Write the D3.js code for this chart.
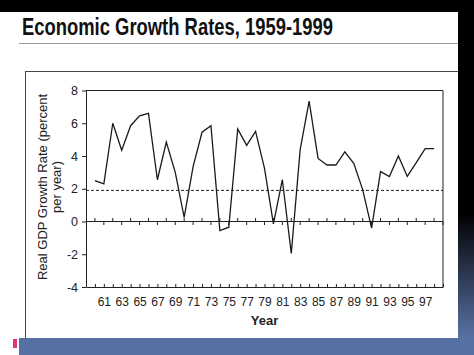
<!DOCTYPE html>
<html><head><meta charset="utf-8">
<script src="https://cdn.jsdelivr.net/npm/d3@7/dist/d3.min.js"></script>
<style>html,body{margin:0;padding:0;overflow:hidden;background:#000}</style>
</head><body>
<svg id="c" width="474" height="355"></svg>
<script>
const years = d3.range(1960, 1999);
const growth = [2.5, 2.3, 6.0, 4.35, 5.85, 6.45, 6.6, 2.55, 4.85, 3.0,
                0.25, 3.35, 5.45, 5.85, -0.55, -0.35, 5.65, 4.65, 5.5, 3.25,
                -0.15, 2.55, -1.95, 4.4, 7.35, 3.85, 3.45, 3.45, 4.25, 3.55,
                1.95, -0.4, 3.05, 2.75, 4.0, 2.75, 3.6, 4.45, 4.45];
const refLine = 1.9;
const yTicks = [-4, -2, 0, 2, 4, 6, 8];
const xLabelYears = d3.range(1961, 1998, 2);
const title = "Economic Growth Rates, 1959-1999";
const yTitle = ["Real GDP Growth Rate (percent", "per year)"];
const xTitle = "Year";

const svg = d3.select("#c");
const defs = svg.append("defs");
const g = defs.append("linearGradient").attr("id","bg").attr("x1",0).attr("y1",0).attr("x2",0).attr("y2",1);
g.append("stop").attr("offset","0").attr("stop-color","#000");
g.append("stop").attr("offset","0.6").attr("stop-color","#000");
g.append("stop").attr("offset","0.95").attr("stop-color","#5871a3");
g.append("stop").attr("offset","1").attr("stop-color","#5a74a6");
svg.append("rect").attr("width",474).attr("height",355).attr("fill","url(#bg)");
svg.append("rect").attr("x",19).attr("y",338).attr("width",455).attr("height",17).attr("fill","#5670a3");
svg.append("rect").attr("x",0).attr("y",12).attr("width",458).attr("height",326).attr("fill","#fff");
svg.append("rect").attr("x",0).attr("y",338).attr("width",19).attr("height",17).attr("fill","#fff");
svg.append("rect").attr("x",13).attr("y",339).attr("width",4).attr("height",9).attr("fill","#e0357f");

// title
svg.append("text").attr("x",22).attr("y",35)
  .attr("font-family","'Liberation Sans Narrow','Arial Narrow','Liberation Sans',Arial,sans-serif")
  .attr("font-weight","bold").attr("font-size",23).attr("fill","#111")
  .attr("textLength",311).attr("lengthAdjust","spacingAndGlyphs").text(title);
svg.append("line").attr("x1",19).attr("x2",458).attr("y1",43.5).attr("y2",43.5).attr("stroke","#9a9a9a").attr("stroke-width",1);
svg.append("line").attr("x1",25).attr("x2",458).attr("y1",71.5).attr("y2",71.5).attr("stroke","#444").attr("stroke-width",1);
svg.append("line").attr("x1",25.5).attr("x2",25.5).attr("y1",71).attr("y2",338).attr("stroke","#444").attr("stroke-width",1);

const x = d3.scaleLinear().domain([1959, 1999]).range([86, 443]);
const y = d3.scaleLinear().domain([-4, 8]).range([287, 90.5]);
const ink = "#222";
const font = "'Liberation Sans',Arial,sans-serif";

// y axis
const ya = svg.append("g").attr("transform",`translate(${x(1959)},0)`)
  .call(d3.axisLeft(y).tickValues(yTicks).tickSizeInner(4).tickSizeOuter(0).tickPadding(4).tickFormat(d => String(d)));
ya.selectAll("text").attr("font-family",font).attr("font-size",12.5).attr("fill",ink);
ya.selectAll("line,path").attr("stroke",ink);

// bottom x axis
const xa = svg.append("g").attr("transform",`translate(0,${y(-4)})`)
  .call(d3.axisBottom(x).tickValues(years.concat([1999])).tickSizeInner(-3).tickSizeOuter(0).tickPadding(10)
    .tickFormat(d => xLabelYears.includes(d) ? String(d).slice(2) : ""));
xa.selectAll("text").attr("font-family",font).attr("font-size",12).attr("fill",ink);
xa.selectAll("line,path").attr("stroke",ink);

// frame top & right
svg.append("line").attr("x1",x(1959)).attr("x2",x(1999)).attr("y1",y(8)).attr("y2",y(8)).attr("stroke",ink);
svg.append("line").attr("x1",x(1999)).attr("x2",x(1999)).attr("y1",y(8)).attr("y2",y(-4)).attr("stroke",ink);

// zero line with alternating ticks
svg.append("line").attr("x1",x(1959)).attr("x2",x(1999)).attr("y1",y(0)).attr("y2",y(0)).attr("stroke",ink).attr("stroke-width",1.2);
svg.append("g").selectAll("line").data(years.concat([1999])).join("line")
  .attr("x1",d=>x(d)).attr("x2",d=>x(d))
  .attr("y1",y(0)).attr("y2",d=> d%2===0 ? y(0)-3.5 : y(0)+3.5)
  .attr("stroke",ink);

// reference dashed line
svg.append("line").attr("x1",x(1959)).attr("x2",x(1999)).attr("y1",y(refLine)).attr("y2",y(refLine))
  .attr("stroke",ink).attr("stroke-dasharray","3,2").attr("stroke-width",1);

// series
svg.append("path").datum(growth)
  .attr("d", d3.line().x((d,i)=>x(years[i])).y(d=>y(d)))
  .attr("fill","none").attr("stroke","#1a1a1a").attr("stroke-width",1.3).attr("stroke-linejoin","miter");

// axis titles
svg.append("text").attr("x",(x(1959)+x(1999))/2).attr("y",325).attr("text-anchor","middle")
  .attr("font-family",font).attr("font-weight","bold").attr("font-size",13).attr("fill",ink).text(xTitle);
const yl = svg.append("g").attr("transform","translate(0,187) rotate(-90)");
yl.append("text").attr("x",0).attr("y",47).attr("text-anchor","middle")
  .attr("font-family",font).attr("font-size",13).attr("fill",ink).text(yTitle[0]);
yl.append("text").attr("x",0).attr("y",60.5).attr("text-anchor","middle")
  .attr("font-family",font).attr("font-size",13).attr("fill",ink).text(yTitle[1]);
</script>
</body></html>
